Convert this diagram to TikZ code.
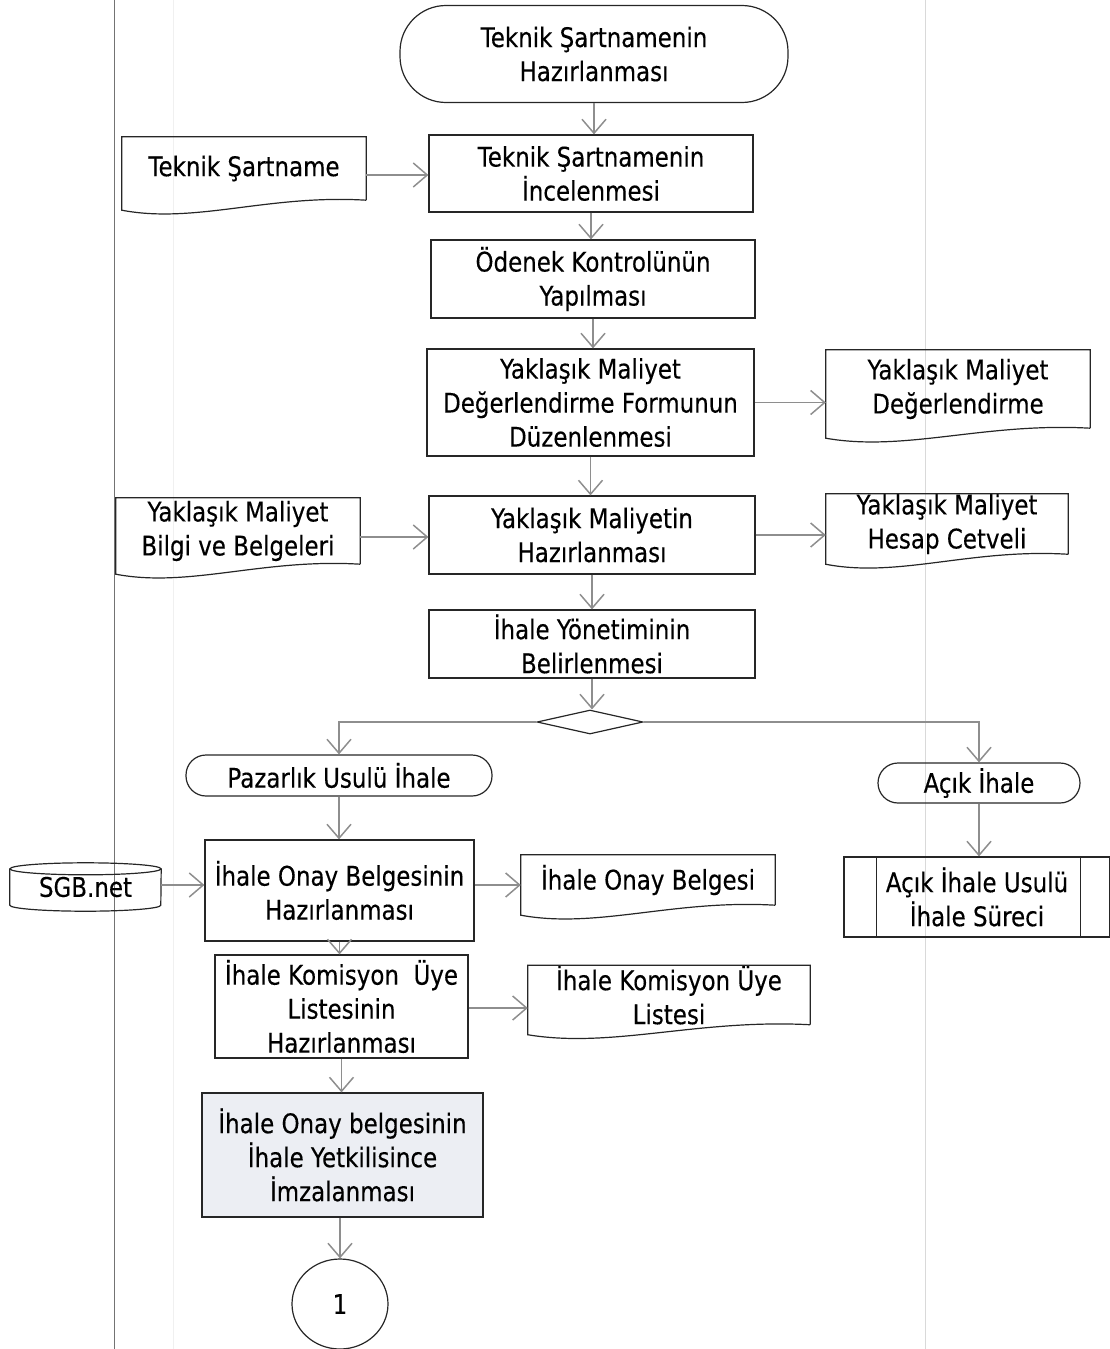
\documentclass[tikz,border=0pt]{standalone}
\usepackage{fontspec}
\setmainfont{DejaVu Sans}[FakeStretch=0.85, FakeBold=0.3]
\usepackage{tikz}
\usetikzlibrary{calc, arrows.meta, shapes.geometric}

\newcommand{\yazi}{\fontsize{27}{34}\selectfont}
\definecolor{okgri}{HTML}{8E8E8E}
\definecolor{imzadolgu}{HTML}{ECEEF3}

\tikzset{
  akis/.style={draw=black!85, line width=1.2pt, font=\yazi, inner sep=0pt, align=center},
  belge/.style={font=\yazi, inner sep=0pt, align=center},
  cizgi/.style={draw=black!85, line width=1.2pt},
  ok/.style={draw=okgri, line width=1.3pt, -{Straight Barb[length=14pt,width=24pt,line width=1.5pt]}}
}

\begin{document}
\begin{tikzpicture}[x=1pt, y=-1pt]
    \useasboundingbox (0,0) rectangle (1109,1349);

    % kulvar cizgileri
    \draw[black!55, line width=1pt] (114,0) -- (114,1349);
    \draw[black!6, line width=1pt] (173,0) -- (173,1349);
    \draw[black!15, line width=1pt] (925,0) -- (925,1349);

    % ana akis
    \node[akis, rounded corners=46pt, minimum width=388pt, minimum height=97pt] (tshaz) at (594,54) {Teknik Şartnamenin\\Hazırlanması};
    \node[akis, minimum width=324pt, minimum height=77pt] (tsinc) at (591,173.5) {Teknik Şartnamenin\\İncelenmesi};
    \node[akis, minimum width=324pt, minimum height=78pt] (odenek) at (593,279) {Ödenek Kontrolünün\\Yapılması};
    \node[akis, minimum width=327pt, minimum height=107pt] (ymform) at (590.5,402.5) {Yaklaşık Maliyet\\Değerlendirme Formunun\\Düzenlenmesi};
    \node[akis, minimum width=326pt, minimum height=78pt] (ymhaz) at (592,535) {Yaklaşık Maliyetin\\Hazırlanması};
    \node[akis, minimum width=326pt, minimum height=68pt] (ihyon) at (592,644) {İhale Yönetiminin\\Belirlenmesi};
    \node[akis, diamond, minimum width=106pt, minimum height=24pt] (karar) at (590,722) {};

    % belgeler
    \node[belge, minimum width=244pt, minimum height=63pt] (tsdoc) at (244,168.5) {Teknik Şartname};
    \node[belge, minimum width=264pt, minimum height=78pt] (ymdeg) at (958,389) {Yaklaşık Maliyet\\Değerlendirme};
    \node[belge, minimum width=244pt, minimum height=66pt] (ymbilgi) at (238,531) {Yaklaşık Maliyet\\Bilgi ve Belgeleri};
    \node[belge, minimum width=242pt, minimum height=60pt] (ymcetvel) at (947,524) {Yaklaşık Maliyet\\Hesap Cetveli};
    \node[belge, minimum width=254pt, minimum height=50pt] (onaybel) at (648,880) {İhale Onay Belgesi};
    \node[belge, minimum width=282pt, minimum height=53pt] (komlist) at (669,995) {İhale Komisyon Üye\\Listesi};

    \foreach \n in {tsdoc, ymdeg, ymbilgi, ymcetvel, onaybel, komlist}
        \draw[cizgi] (\n.south east) -- (\n.north east) -- (\n.north west) -- ($(\n.south west)+(0,10)$)
            .. controls ($(\n.south west)!0.3!(\n.south east)+(0,24)$) and ($(\n.south west)!0.6!(\n.south east)+(0,-6)$) .. (\n.south east);

    % pazarlik usulu kolu
    \node[akis, rounded corners=20pt, minimum width=306pt, minimum height=41pt] (pazarlik) at (339,775.5) {Pazarlık Usulü İhale};
    \node[akis, minimum width=269pt, minimum height=101pt] (onayhaz) at (339.5,890.5) {İhale Onay Belgesinin\\Hazırlanması};
    \node[akis, minimum width=253pt, minimum height=103pt] (komhaz) at (341.5,1006.5) {İhale Komisyon\ \ Üye\\Listesinin\\Hazırlanması};
    \node[akis, fill=imzadolgu, minimum width=281pt, minimum height=124pt] (imza) at (342.5,1155) {İhale Onay belgesinin\\İhale Yetkilisince\\İmzalanması};
    \node[akis, ellipse, minimum width=96pt, minimum height=90pt] (bir) at (340,1304) {1};

    % veritabani
    \node[belge, minimum width=151pt, minimum height=48pt] (sgb) at (85.5,887) {SGB.net};
    \draw[cizgi] ($(sgb.north)+(0,6)$) ellipse [x radius=75.5pt, y radius=6pt];
    \draw[cizgi] ($(sgb.north west)+(0,6)$) -- ($(sgb.south west)+(0,-6)$)
        arc[start angle=180, end angle=360, x radius=75.5pt, y radius=6pt] -- ($(sgb.north east)+(0,6)$);

    % acik ihale kolu
    \node[akis, rounded corners=20pt, minimum width=202pt, minimum height=40pt] (acik) at (979,783) {Açık İhale};
    \node[akis, minimum width=266pt, minimum height=80pt] (aciksurec) at (977,897) {Açık İhale Usulü\\İhale Süreci};
    \draw[cizgi] ($(aciksurec.north west)+(33,0)$) -- ($(aciksurec.south west)+(33,0)$);
    \draw[cizgi] ($(aciksurec.north east)+(-30,0)$) -- ($(aciksurec.south east)+(-30,0)$);

    % oklar
    \draw[ok] (tshaz.south) -- (tshaz.south |- tsinc.north);
    \draw[ok] (tsdoc.east |- 0,175) -- (tsinc.west |- 0,175);
    \draw[ok] (tsinc.south) -- (tsinc.south |- odenek.north);
    \draw[ok] (odenek.south) -- (odenek.south |- ymform.north);
    \draw[ok] (ymform.east) -- (ymform.east -| ymdeg.west);
    \draw[ok] (ymform.south) -- (ymform.south |- ymhaz.north);
    \draw[ok] (ymbilgi.east |- 0,537) -- (ymhaz.west |- 0,537);
    \draw[ok] (ymhaz.east) -- (ymhaz.east -| ymcetvel.west);
    \draw[ok] (ymhaz.south) -- (ymhaz.south |- ihyon.north);
    \draw[ok] (ihyon.south) -- (ihyon.south |- karar.north);
    \draw[ok] (karar.west) -| (pazarlik.north);
    \draw[ok] (karar.east) -| (acik.north);
    \draw[ok] (pazarlik.south) -- (pazarlik.south |- onayhaz.north);
    \draw[ok] (sgb.east |- 0,885) -- (onayhaz.west |- 0,885);
    \draw[ok] (onayhaz.east |- 0,885) -- (onaybel.west |- 0,885);
    \draw[ok] (acik.south) -- (acik.south |- aciksurec.north);
    \draw[ok] (onayhaz.south) -- (onayhaz.south |- komhaz.north);
    \draw[ok] (komhaz.east |- 0,1008) -- (komlist.west |- 0,1008);
    \draw[ok] (komhaz.south) -- (komhaz.south |- imza.north);
    \draw[ok] (bir.north |- imza.south) -- (bir.north);

\end{tikzpicture}
\end{document}
